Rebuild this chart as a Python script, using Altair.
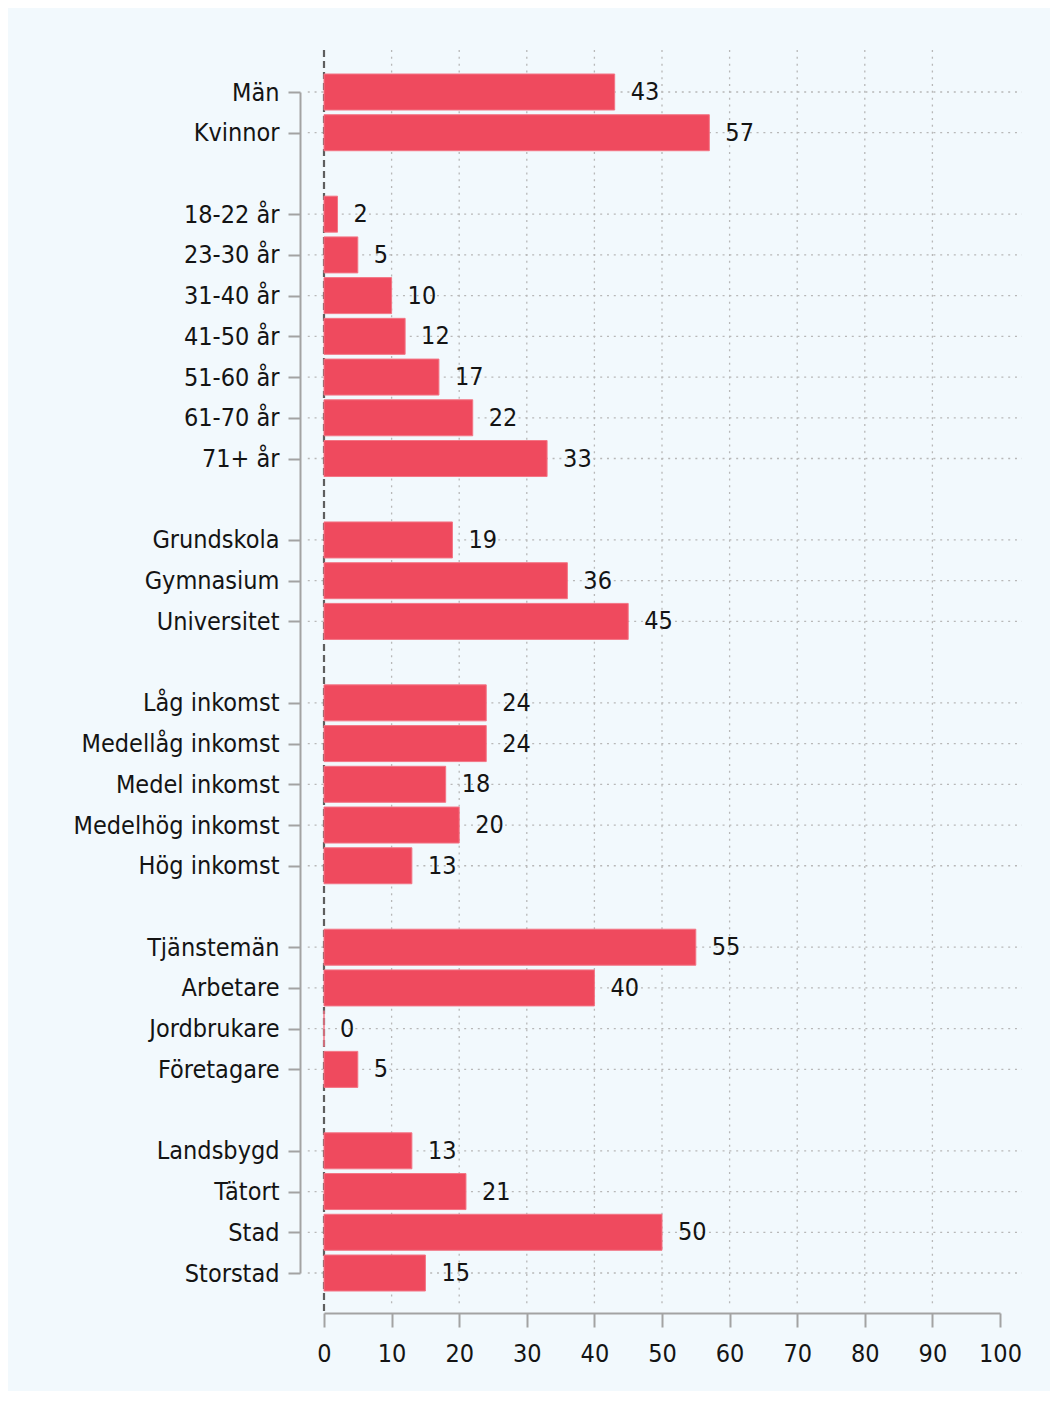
import json
import altair as alt
import pandas as pd

# ---- data ----
group_gender = ["Män", "Kvinnor"]
values_gender = [43, 57]
group_age = ["18-22 år", "23-30 år", "31-40 år", "41-50 år", "51-60 år", "61-70 år", "71+ år"]
values_age = [2, 5, 10, 12, 17, 22, 33]
group_edu = ["Grundskola", "Gymnasium", "Universitet"]
values_edu = [19, 36, 45]
group_income = ["Låg inkomst", "Medellåg inkomst", "Medel inkomst", "Medelhög inkomst", "Hög inkomst"]
values_income = [24, 24, 18, 20, 13]
group_job = ["Tjänstemän", "Arbetare", "Jordbrukare", "Företagare"]
values_job = [55, 40, 0, 5]
group_place = ["Landsbygd", "Tätort", "Stad", "Storstad"]
values_place = [13, 21, 50, 15]
x_ticks = [0, 10, 20, 30, 40, 50, 60, 70, 80, 90, 100]

groups = [
    (group_gender, values_gender),
    (group_age, values_age),
    (group_edu, values_edu),
    (group_income, values_income),
    (group_job, values_job),
    (group_place, values_place),
]

# build rows: one blank row between groups
rows = []
labels = []
r = 0
for gi, (cats, vals) in enumerate(groups):
    if gi > 0:
        labels.append("")
        r += 1
    for c, v in zip(cats, vals):
        rows.append({"row": r, "label": c, "value": v})
        labels.append(c)
        r += 1
n_last = r - 1
df = pd.DataFrame(rows)

FONT = "DejaVu Sans Condensed, Liberation Sans Narrow, sans-serif"
FS = 25
BAR = "#ef4a5e"
AX = "#a3a3a3"
TXT = "#141414"

xs = alt.Scale(domain=[0, 100], nice=False, zero=False, padding=0)
ys = alt.Scale(domain=[0, n_last], reverse=True, nice=False, zero=False, padding=0)

TOP = -1.03
BOTTOM_GRID = n_last + 0.79
BOTTOM_AXIS = n_last + 0.98
LEFT = -2.4
RIGHT = 103.25

label_expr = json.dumps(labels, ensure_ascii=False) + "[datum.value]"

x_axis = alt.Axis(values=x_ticks, title=None, grid=False, offset=40,
                  tickSize=14, tickWidth=2, tickColor=AX, domainColor=AX,
                  domainWidth=2, labelPadding=14, labelFont=FONT,
                  labelFontSize=FS, labelColor=TXT, labelFlush=False)
y_axis = alt.Axis(values=[d["row"] for d in rows], labelExpr=label_expr,
                  title=None, grid=False, offset=24, tickSize=12,
                  tickWidth=2, tickColor=AX, domainColor=AX, domainWidth=2,
                  labelPadding=9, labelFont=FONT, labelFontSize=FS,
                  labelColor=TXT, labelFlush=False, labelOverlap=False,
                  labelLimit=400)

grid_df = pd.DataFrame({"x": [t for t in x_ticks if 0 < t < 100]})
zero_df = pd.DataFrame({"x": [0]})

hgrid = alt.Chart(df).mark_rule(color="#b8b8b8", strokeDash=[2, 4.8], strokeWidth=1.3).transform_calculate(
    xa=str(LEFT), xb=str(RIGHT)
).encode(
    y=alt.Y("row:Q", scale=ys, axis=y_axis),
    x=alt.X("xa:Q", scale=xs, axis=x_axis),
    x2="xb:Q",
)

vgrid = alt.Chart(grid_df).mark_rule(color="#b8b8b8", strokeDash=[2, 4.8], strokeWidth=1.3).transform_calculate(
    ya=str(TOP), yb=str(BOTTOM_GRID)
).encode(
    x=alt.X("x:Q", scale=xs, axis=x_axis),
    y=alt.Y("ya:Q", scale=ys, axis=y_axis),
    y2="yb:Q",
)

zero = alt.Chart(zero_df).mark_rule(color="#5e5e5e", strokeDash=[7, 4], strokeWidth=2.2).transform_calculate(
    ya=str(TOP), yb=str(BOTTOM_AXIS)
).encode(
    x=alt.X("x:Q", scale=xs, axis=x_axis),
    y=alt.Y("ya:Q", scale=ys, axis=y_axis),
    y2="yb:Q",
)

bars = alt.Chart(df).mark_bar(color=BAR, size=36, orient="horizontal",
                              stroke="#f37585", strokeWidth=1).encode(
    x=alt.X("value:Q", scale=xs, axis=x_axis),
    y=alt.Y("row:Q", scale=ys, axis=y_axis),
)

texts = alt.Chart(df).mark_text(align="left", baseline="middle", dx=16, font=FONT,
                                fontSize=FS, color=TXT).encode(
    x=alt.X("value:Q", scale=xs, axis=x_axis),
    y=alt.Y("row:Q", scale=ys, axis=y_axis),
    text=alt.Text("value:Q"),
)

chart = alt.layer(hgrid, vgrid, zero, bars, texts).properties(
    width=676, height=1181,
    autosize=alt.AutoSizeParams(type="none"),
    padding={"left": 316, "top": 84, "right": 50, "bottom": 118},
    background="#f2f9fd",
).configure_view(stroke=None)

chart.save("out.html", embed_options={"renderer": "svg", "actions": False})
